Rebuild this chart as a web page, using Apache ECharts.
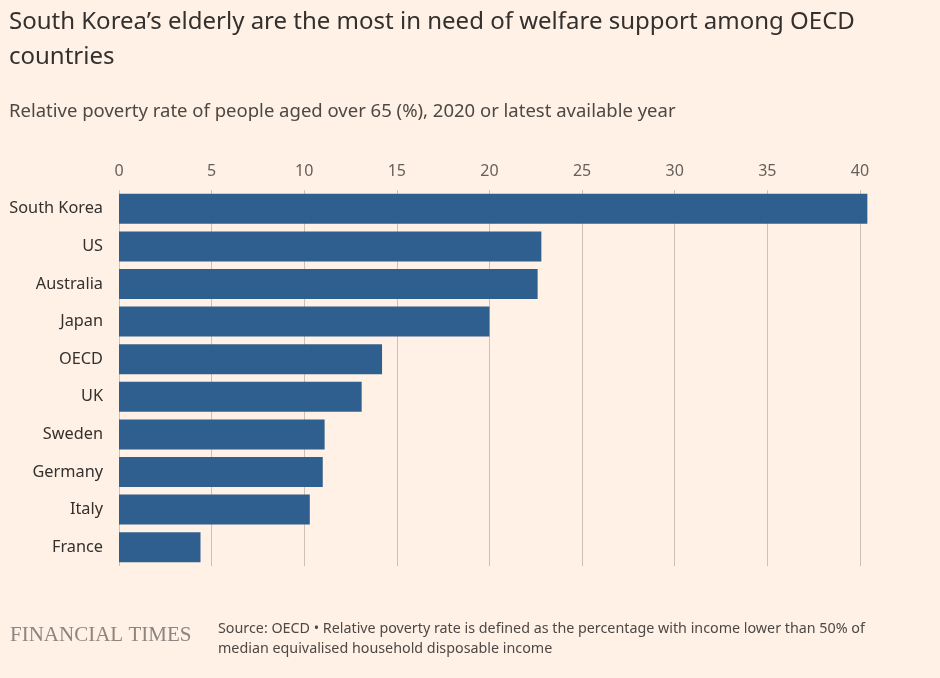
<!DOCTYPE html>
<html><head><meta charset="utf-8">
<script src="https://cdn.jsdelivr.net/npm/echarts@6/dist/echarts.min.js"></script>
<style>html,body{margin:0;padding:0;background:#FFF1E5;}#c{width:940px;height:678px;}</style>
</head><body><div id="c"></div>
<script>
const categories = ["South Korea","US","Australia","Japan","OECD","UK","Sweden","Germany","Italy","France"];
const values = [40.4,22.8,22.6,20.0,14.2,13.1,11.1,11.0,10.3,4.4];
const chart = echarts.init(document.getElementById('c'));
chart.setOption({
  backgroundColor:'#FFF1E5',
  animation:false,
  title:[
    {text:"South Korea’s elderly are the most in need of welfare support among OECD\ncountries",left:4,top:0,textStyle:{fontFamily:'Noto Sans',fontSize:24,fontWeight:'normal',color:'#33302e',lineHeight:35}},
    {text:"Relative poverty rate of people aged over 65 (%), 2020 or latest available year",left:4,top:97,textStyle:{fontFamily:'Noto Sans',fontSize:18.5,fontWeight:'normal',color:'#4d4845'}},
    {text:"FINANCIAL TIMES",left:5,top:620,textStyle:{fontFamily:'Liberation Serif',fontSize:21,fontWeight:'normal',color:'#8c8580'}},
    {text:"Source: OECD • Relative poverty rate is defined as the percentage with income lower than 50% of\nmedian equivalised household disposable income",left:213,top:614,textStyle:{fontFamily:'Noto Sans',fontSize:14.3,fontWeight:'normal',color:'#4d4845',lineHeight:20}}
  ],
  grid:{left:119,right:43,top:190,bottom:112,containLabel:false},
  xAxis:{type:'value',position:'top',min:0,max:42,interval:5,
    axisLine:{show:false},axisTick:{show:false},
    axisLabel:{showMaxLabel:false,color:'#66605c',fontSize:16,fontFamily:'Noto Sans',margin:11},
    splitLine:{showMaxLine:false,lineStyle:{color:'#ccc1b7',width:1}}},
  yAxis:{type:'category',data:categories,inverse:true,
    axisLine:{show:false},axisTick:{show:false},
    axisLabel:{color:'#33302e',fontSize:16.3,fontFamily:'Noto Sans',margin:16}},
  series:[{type:'bar',data:values,barWidth:30,itemStyle:{color:'#2f5f8f'}}]
});
</script></body></html>
